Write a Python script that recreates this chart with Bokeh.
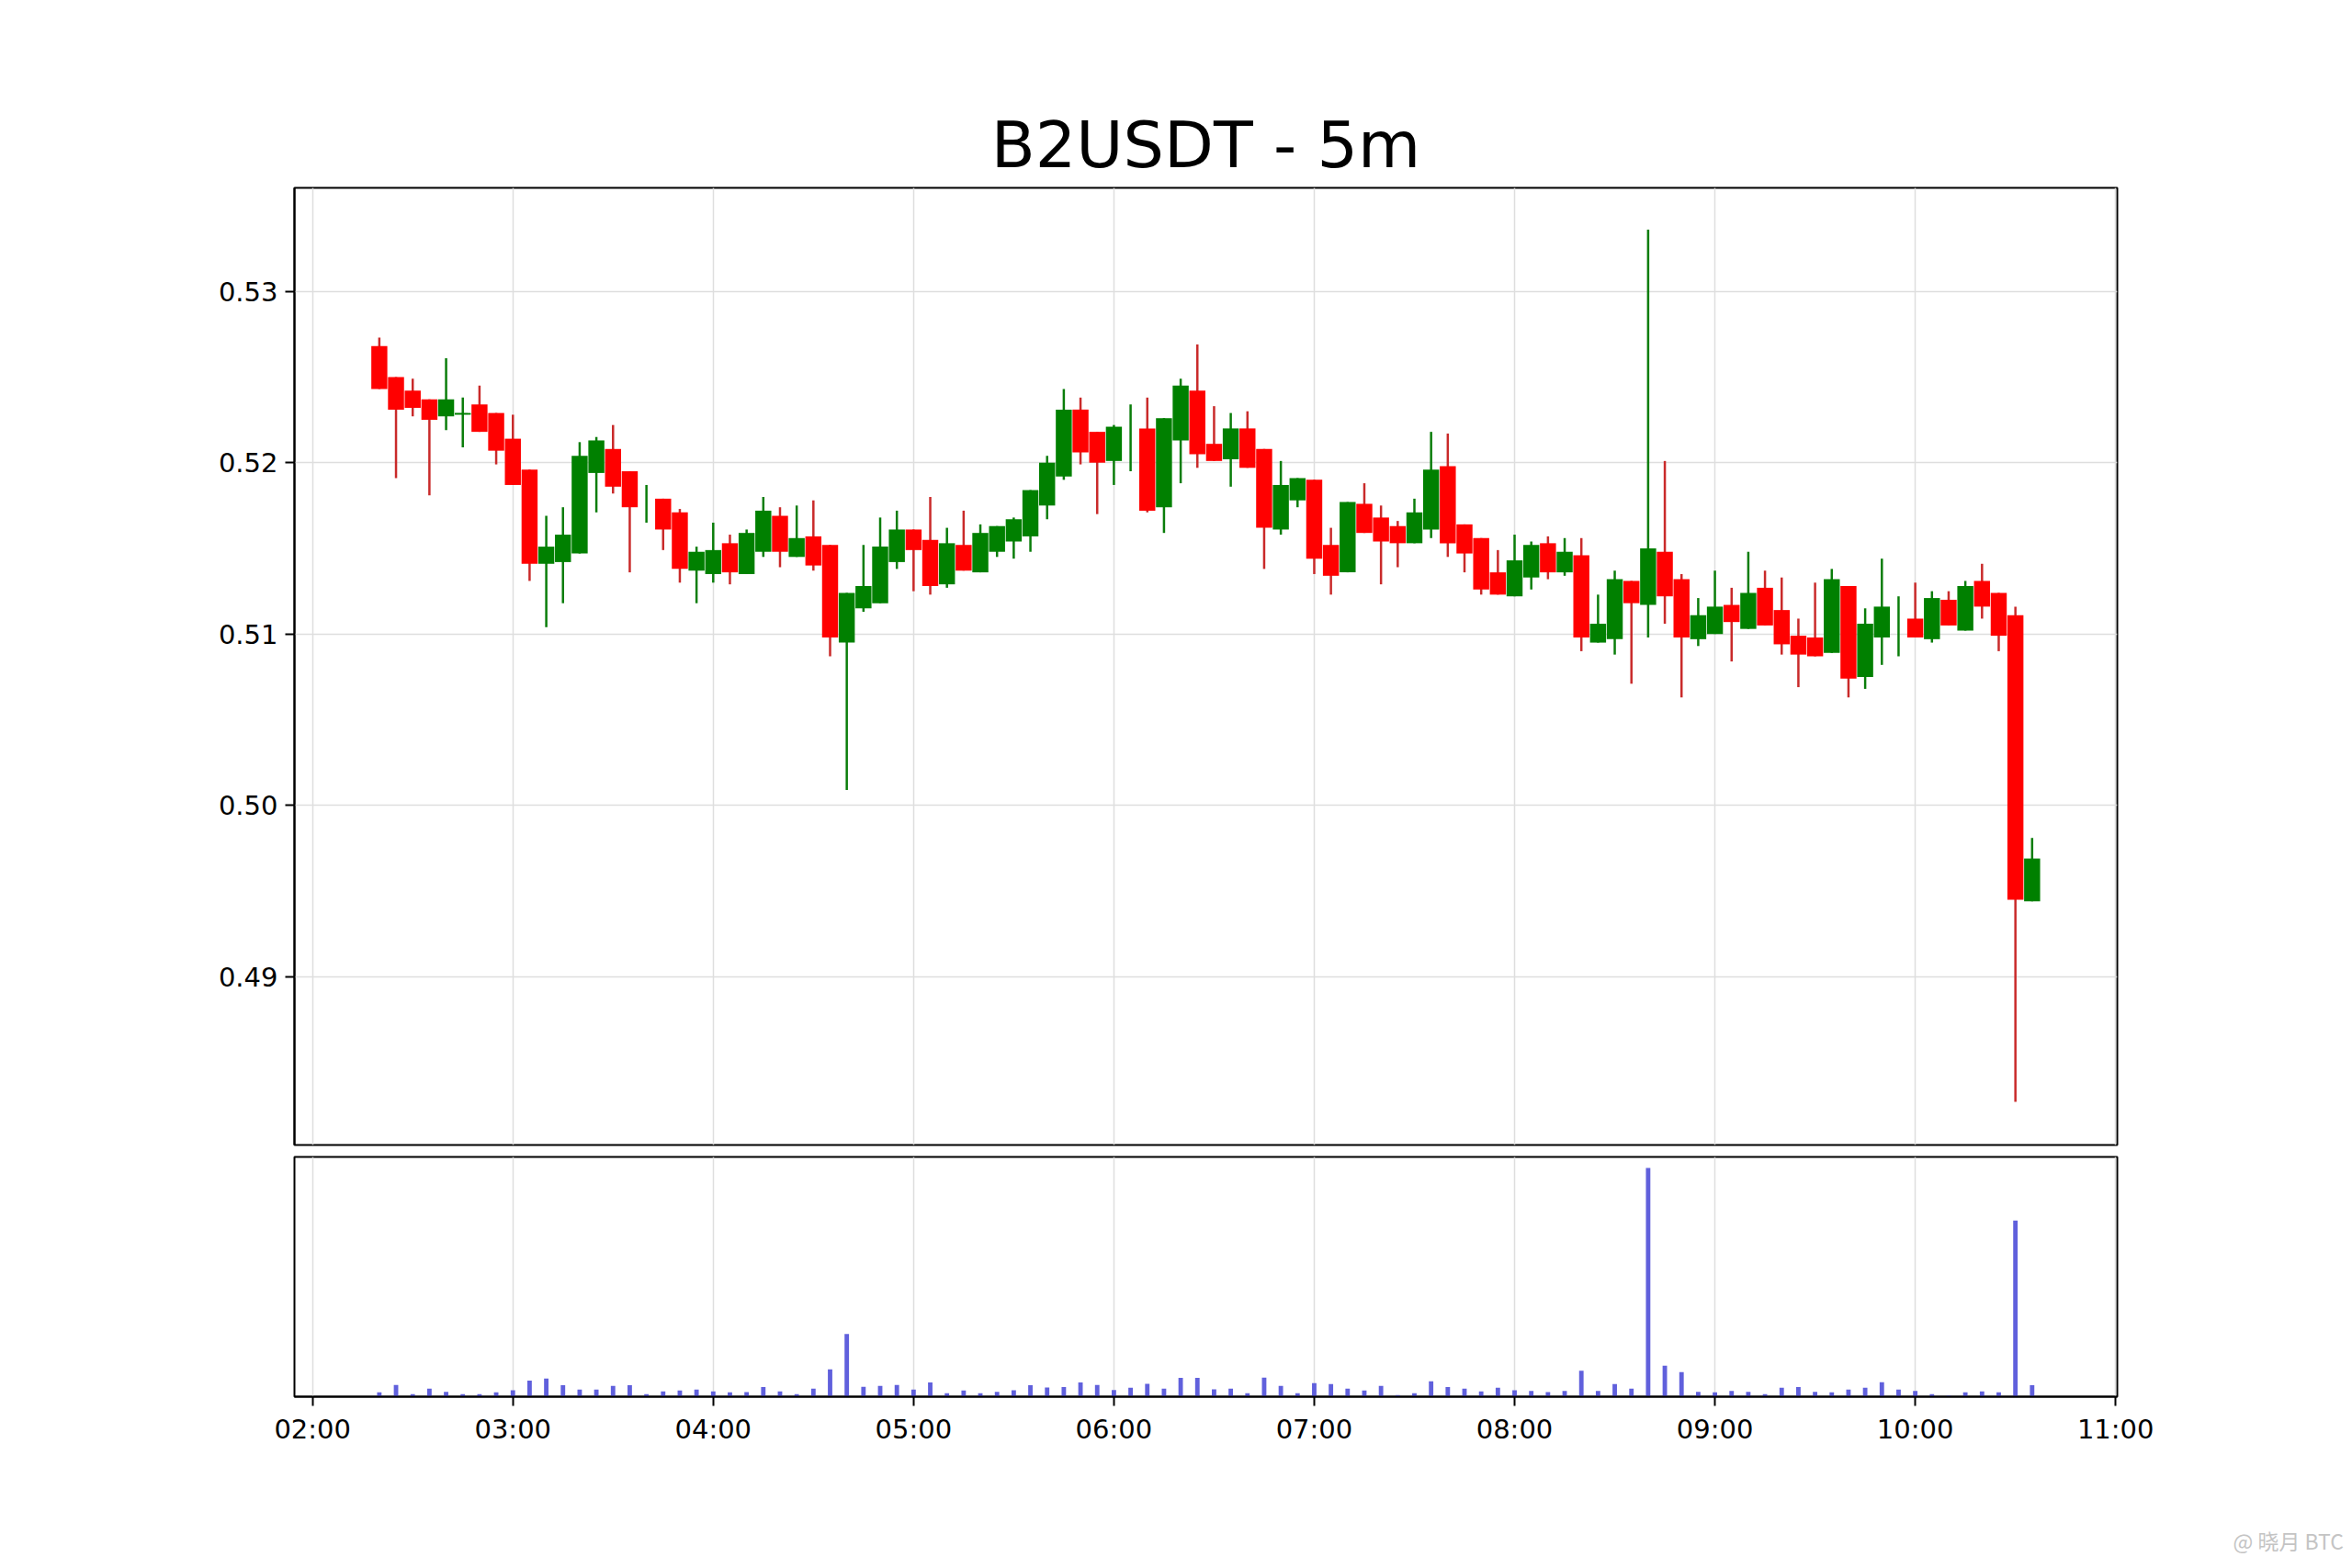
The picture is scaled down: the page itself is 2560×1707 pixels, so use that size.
import pandas as pd
from bokeh.plotting import figure
from bokeh.layouts import column
from bokeh.models import Range1d, FixedTicker, ColumnDataSource, Title
from bokeh.embed import file_html
from bokeh.resources import INLINE

# ---------------- data ----------------
title_text = "B2USDT - 5m"
watermark_text = "@ 晓月 BTC"

times = (
    "02:20 02:25 02:30 02:35 02:40 02:45 02:50 02:55 "
    "03:00 03:05 03:10 03:15 03:20 03:25 03:30 03:35 03:40 03:45 03:50 03:55 "
    "04:00 04:05 04:10 04:15 04:20 04:25 04:30 04:35 04:40 04:45 04:50 04:55 "
    "05:00 05:05 05:10 05:15 05:20 05:25 05:30 05:35 05:40 05:45 05:50 05:55 "
    "06:00 06:05 06:10 06:15 06:20 06:25 06:30 06:35 06:40 06:45 06:50 06:55 "
    "07:00 07:05 07:10 07:15 07:20 07:25 07:30 07:35 07:40 07:45 07:50 07:55 "
    "08:00 08:05 08:10 08:15 08:20 08:25 08:30 08:35 08:40 08:45 08:50 08:55 "
    "09:00 09:05 09:10 09:15 09:20 09:25 09:30 09:35 09:40 09:45 09:50 09:55 "
    "10:00 10:05 10:10 10:15 10:20 10:25 10:30 10:35"
).split()

opens = [
    0.5268, 0.5250, 0.5242, 0.5237, 0.5227, 0.5228, 0.5234, 0.5229,
    0.5214, 0.5196, 0.5141, 0.5142, 0.5147, 0.5194, 0.5208, 0.5195, 0.5176, 0.5179, 0.5171, 0.5137,
    0.5135, 0.5153, 0.5135, 0.5148, 0.5169, 0.5145, 0.5157, 0.5152, 0.5095, 0.5115, 0.5118, 0.5142,
    0.5161, 0.5155, 0.5129, 0.5152, 0.5136, 0.5148, 0.5154, 0.5157, 0.5175, 0.5192, 0.5231, 0.5218,
    0.5201, 0.5220, 0.5220, 0.5174, 0.5213, 0.5242, 0.5211, 0.5202, 0.5220, 0.5208, 0.5161, 0.5178,
    0.5190, 0.5152, 0.5136, 0.5176, 0.5168, 0.5163, 0.5153, 0.5161, 0.5198, 0.5164, 0.5156, 0.5136,
    0.5122, 0.5133, 0.5153, 0.5136, 0.5146, 0.5095, 0.5097, 0.5131, 0.5117, 0.5148, 0.5132, 0.5097,
    0.5100, 0.5117, 0.5103, 0.5127, 0.5114, 0.5099, 0.5098, 0.5089, 0.5128, 0.5075, 0.5098, 0.5104,
    0.5109, 0.5097, 0.5120, 0.5102, 0.5131, 0.5124, 0.5111, 0.4944,
]
highs = [
    0.5273, 0.5250, 0.5249, 0.5237, 0.5261, 0.5238, 0.5245, 0.5229,
    0.5228, 0.5196, 0.5169, 0.5174, 0.5212, 0.5215, 0.5222, 0.5195, 0.5187, 0.5179, 0.5173, 0.5151,
    0.5165, 0.5158, 0.5161, 0.5180, 0.5174, 0.5175, 0.5178, 0.5152, 0.5124, 0.5152, 0.5168, 0.5172,
    0.5161, 0.5180, 0.5162, 0.5172, 0.5164, 0.5163, 0.5168, 0.5184, 0.5204, 0.5243, 0.5238, 0.5218,
    0.5222, 0.5234, 0.5238, 0.5226, 0.5249, 0.5269, 0.5233, 0.5229, 0.5230, 0.5208, 0.5201, 0.5191,
    0.5190, 0.5162, 0.5177, 0.5188, 0.5175, 0.5166, 0.5179, 0.5218, 0.5217, 0.5164, 0.5156, 0.5149,
    0.5158, 0.5154, 0.5157, 0.5156, 0.5156, 0.5123, 0.5137, 0.5131, 0.5336, 0.5201, 0.5135, 0.5121,
    0.5137, 0.5127, 0.5148, 0.5137, 0.5133, 0.5109, 0.5130, 0.5138, 0.5128, 0.5115, 0.5144, 0.5122,
    0.5130, 0.5125, 0.5125, 0.5131, 0.5141, 0.5124, 0.5116, 0.4981,
]
lows = [
    0.5243, 0.5191, 0.5227, 0.5181, 0.5219, 0.5209, 0.5218, 0.5199,
    0.5187, 0.5131, 0.5104, 0.5118, 0.5147, 0.5171, 0.5182, 0.5136, 0.5165, 0.5149, 0.5130, 0.5118,
    0.5130, 0.5129, 0.5135, 0.5145, 0.5139, 0.5145, 0.5137, 0.5087, 0.5009, 0.5113, 0.5118, 0.5138,
    0.5125, 0.5123, 0.5127, 0.5137, 0.5136, 0.5145, 0.5144, 0.5148, 0.5167, 0.5190, 0.5199, 0.5170,
    0.5187, 0.5195, 0.5171, 0.5159, 0.5188, 0.5197, 0.5201, 0.5186, 0.5197, 0.5138, 0.5158, 0.5174,
    0.5135, 0.5123, 0.5136, 0.5159, 0.5129, 0.5139, 0.5153, 0.5156, 0.5145, 0.5136, 0.5123, 0.5123,
    0.5122, 0.5126, 0.5132, 0.5134, 0.5090, 0.5095, 0.5088, 0.5071, 0.5098, 0.5106, 0.5063, 0.5093,
    0.5100, 0.5084, 0.5103, 0.5105, 0.5088, 0.5069, 0.5087, 0.5089, 0.5063, 0.5068, 0.5082, 0.5087,
    0.5098, 0.5095, 0.5105, 0.5102, 0.5109, 0.5090, 0.4827, 0.4944,
]
closes = [
    0.5243, 0.5231, 0.5232, 0.5225, 0.5237, 0.5229, 0.5218, 0.5207,
    0.5187, 0.5141, 0.5151, 0.5158, 0.5204, 0.5213, 0.5186, 0.5174, 0.5176, 0.5161, 0.5138, 0.5148,
    0.5149, 0.5136, 0.5159, 0.5172, 0.5148, 0.5156, 0.5140, 0.5098, 0.5124, 0.5128, 0.5151, 0.5161,
    0.5149, 0.5128, 0.5153, 0.5137, 0.5159, 0.5163, 0.5167, 0.5184, 0.5200, 0.5231, 0.5206, 0.5200,
    0.5221, 0.5220, 0.5172, 0.5226, 0.5245, 0.5205, 0.5201, 0.5220, 0.5197, 0.5162, 0.5187, 0.5191,
    0.5144, 0.5134, 0.5177, 0.5159, 0.5154, 0.5153, 0.5171, 0.5196, 0.5153, 0.5147, 0.5126, 0.5123,
    0.5143, 0.5152, 0.5136, 0.5148, 0.5098, 0.5106, 0.5132, 0.5118, 0.5150, 0.5122, 0.5098, 0.5111,
    0.5116, 0.5107, 0.5124, 0.5105, 0.5094, 0.5088, 0.5087, 0.5132, 0.5074, 0.5106, 0.5116, 0.5104,
    0.5098, 0.5121, 0.5105, 0.5128, 0.5116, 0.5099, 0.4945, 0.4969,
]
volumes = [
    14, 38, 8, 26, 16, 8, 8, 14,
    21, 52, 59, 37, 23, 23, 35, 37, 8, 17, 20, 23,
    17, 14, 15, 31, 17, 8, 26, 89, 204, 32, 35, 38,
    23, 46, 11, 20, 11, 16, 21, 37, 30, 31, 46, 38,
    22, 29, 42, 26, 61, 61, 24, 26, 11, 62, 35, 11,
    44, 41, 26, 20, 35, 5, 11, 50, 31, 26, 17, 29,
    21, 19, 15, 19, 84, 19, 41, 26, 743, 101, 80, 16,
    14, 19, 16, 8, 29, 31, 16, 14, 23, 29, 47, 23,
    19, 8, 4, 14, 17, 14, 572, 37,
]

x_tick_labels = ["02:00", "03:00", "04:00", "05:00", "06:00",
                 "07:00", "08:00", "09:00", "10:00", "11:00"]
y_tick_labels = ["0.49", "0.50", "0.51", "0.52", "0.53"]

# ---------------- styling ----------------
DAY = "2024-01-01 "
FONT = "DejaVu Sans"
UP_BODY, DOWN_BODY = "#008000", "#ff0000"
UP_WICK, DOWN_WICK = "#0a7d0a", "#c92a2a"
VOL_COLOR = "#6060dc"
GRID_COLOR = "#dedede"


def ms(s):
    return pd.Timestamp(DAY + s).value / 1e6


t_ms = [ms(s) for s in times]
up = [c >= o for o, c in zip(opens, closes)]
src = ColumnDataSource(dict(
    t=t_ms,
    open=opens, high=highs, low=lows, close=closes,
    top=[max(o, c) for o, c in zip(opens, closes)],
    bottom=[min(o, c) for o, c in zip(opens, closes)],
    body=[UP_BODY if u else DOWN_BODY for u in up],
    wick=[UP_WICK if u else DOWN_WICK for u in up],
    vol=volumes,
))

x_ticks = [ms(s) for s in x_tick_labels]
y_ticks = [float(s) for s in y_tick_labels]

x_range = Range1d(ms("01:54") + 35000, ms("11:00") + 30000)

# ---------------- price panel ----------------
p1 = figure(width=2552, height=1248, x_axis_type="datetime",
            x_range=x_range, y_range=Range1d(0.48018, 0.53604),
            output_backend="svg", toolbar_location=None,
            min_border_left=320, min_border_right=248,
            min_border_top=204, min_border_bottom=2,
            title=title_text)
p1.title.text_font = FONT
p1.title.text_font_size = "70px"
p1.title.text_font_style = "normal"
p1.title.align = "center"
p1.title.text_color = "black"
p1.title.standoff = 12

p1.segment(x0="t", y0="low", x1="t", y1="high", source=src,
           line_color="wick", line_width=2.5)
p1.vbar(x="t", top="top", bottom="bottom", width=288000, source=src,
        fill_color="body", line_color=None)

p1.xaxis.visible = False
p1.xaxis.ticker = FixedTicker(ticks=x_ticks)
p1.xgrid.ticker = FixedTicker(ticks=x_ticks)
p1.yaxis.ticker = FixedTicker(ticks=y_ticks)
p1.yaxis.major_label_overrides = dict(zip(y_ticks, y_tick_labels))

p1.yaxis.major_label_text_font = FONT
p1.yaxis.major_label_text_font_size = "29px"
p1.yaxis.major_label_text_color = "black"
p1.yaxis.major_tick_out = 10
p1.yaxis.major_tick_in = 0
p1.yaxis.major_tick_line_width = 2
p1.yaxis.major_tick_line_color = "black"
p1.yaxis.minor_tick_line_color = None
p1.yaxis.axis_line_width = 2
p1.yaxis.axis_line_color = "black"
p1.yaxis.major_label_standoff = 8

p1.xgrid.grid_line_color = GRID_COLOR
p1.ygrid.grid_line_color = GRID_COLOR
p1.xgrid.grid_line_width = 1.5
p1.ygrid.grid_line_width = 1.5
p1.outline_line_color = "black"
p1.outline_line_width = 2
p1.outline_line_alpha = 1

# ---------------- volume panel ----------------
VOL_TOP = 779
p2 = figure(width=2552, height=459, x_axis_type="datetime",
            x_range=x_range, y_range=Range1d(0, VOL_TOP),
            output_backend="svg", toolbar_location=None,
            min_border_left=320, min_border_right=248,
            min_border_top=11, min_border_bottom=187)
p2.vbar(x="t", top="vol", bottom=0, width=80000, source=src,
        fill_color=VOL_COLOR, line_color=None)

p2.yaxis.visible = False
p2.ygrid.visible = False
p2.xaxis.ticker = FixedTicker(ticks=x_ticks)
p2.xgrid.ticker = FixedTicker(ticks=x_ticks)
p2.xaxis.major_label_overrides = dict(zip(x_ticks, x_tick_labels))
p2.xaxis.major_label_text_font = FONT
p2.xaxis.major_label_text_font_size = "29px"
p2.xaxis.major_label_text_color = "black"
p2.xaxis.major_tick_out = 10
p2.xaxis.major_tick_in = 0
p2.xaxis.major_tick_line_width = 2
p2.xaxis.major_tick_line_color = "black"
p2.xaxis.minor_tick_line_color = None
p2.xaxis.axis_line_width = 2
p2.xaxis.axis_line_color = "black"
p2.xaxis.major_label_standoff = 8
p2.xgrid.grid_line_color = GRID_COLOR
p2.xgrid.grid_line_width = 1.5
p2.outline_line_color = "black"
p2.outline_line_width = 2
p2.outline_line_alpha = 1

# watermark in the bottom-right margin (an empty spacer title pushes it down)
spacer = Title(text=" ", standoff=68, text_font_size="10px")
p2.add_layout(spacer, "below")
wm = Title(text=watermark_text, align="left", offset=2110, standoff=2,
           text_font="Noto Sans CJK SC", text_font_size="23px",
           text_font_style="normal", text_color="#c4c4c4")
p2.add_layout(wm, "below")

layout = column(p1, p2)
open("out.html", "w").write(file_html(layout, INLINE))
